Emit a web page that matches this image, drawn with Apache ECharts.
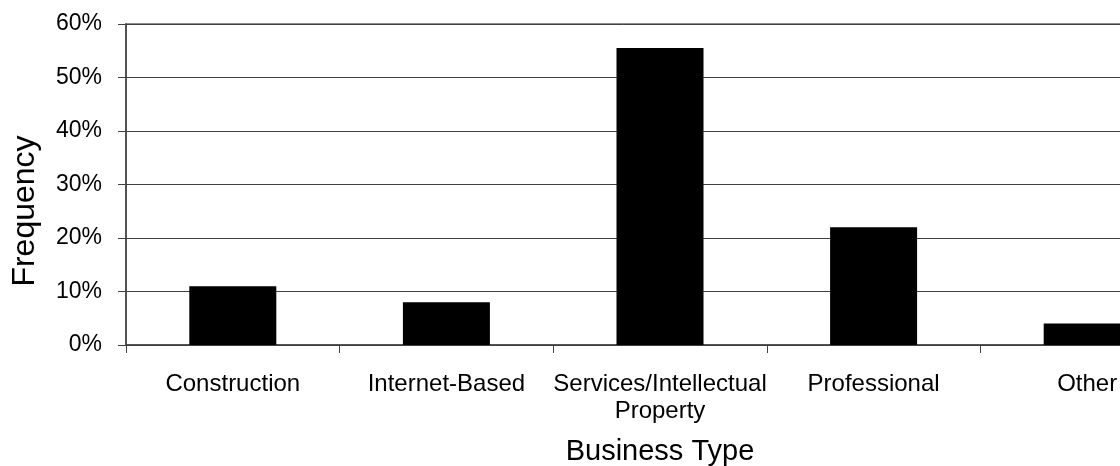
<!DOCTYPE html>
<html>
<head>
<meta charset="utf-8">
<script src="https://cdn.jsdelivr.net/npm/echarts@6/dist/echarts.min.js"></script>
<style>
  html, body { margin: 0; padding: 0; background: #fff; }
  #chart { width: 1120px; height: 466px; }
</style>
</head>
<body>
<div id="chart"></div>
<script>
  // data
  const categories = ['Construction', 'Internet-Based', 'Services/Intellectual\nProperty', 'Professional', 'Other']
  const frequency = [0.11, 0.08, 0.555, 0.22, 0.04]
  const yTicks = [0, 0.1, 0.2, 0.3, 0.4, 0.5, 0.6]

  const font = 'Liberation Sans'
  const chart = echarts.init(document.getElementById('chart'))

  const option = {
    animation: false,
    grid: {
      left: 126,
      top: 24,
      height: 321,
      width: 1068, // plot runs past the right edge, as in the original
      outerBoundsMode: 'none',
      containLabel: false,
      show: true,
      borderColor: '#8c8c8c',
      borderWidth: 2,
    },
    graphic: [
      {
        type: 'text',
        x: 25,
        y: 211,
        rotation: Math.PI / 2,
        style: {
          text: 'Frequency',
          font: '32px "Liberation Sans"',
          fill: '#000',
          align: 'center',
          verticalAlign: 'middle',
        },
      },
    ],
    xAxis: {
      type: 'category',
      data: categories,
      name: 'Business Type',
      nameLocation: 'middle',
      nameGap: 92,
      nameTextStyle: { fontFamily: font, fontSize: 29, color: '#000' },
      axisLine: { lineStyle: { color: '#404040', width: 1.5 } },
      axisTick: { show: true, length: 8, alignWithLabel: false, lineStyle: { color: '#404040' } },
      axisLabel: {
        interval: 0,
        margin: 26,
        fontFamily: font,
        fontSize: 24,
        color: '#000',
        lineHeight: 27,
      },
      splitLine: { show: false },
    },
    yAxis: {
      type: 'value',
      min: yTicks[0],
      max: yTicks[yTicks.length - 1],
      interval: 0.1,
      axisLine: { show: true, lineStyle: { color: '#404040', width: 1.5 } },
      axisTick: { show: true, length: 8, lineStyle: { color: '#404040' } },
      axisLabel: {
        margin: 24,
        fontFamily: font,
        fontSize: 23,
        color: '#000',
        formatter: (v) => Math.round(v * 100) + '%',
      },
      splitLine: { show: true, lineStyle: { color: '#404040', width: 1 } },
    },
    series: [
      {
        type: 'bar',
        data: frequency,
        barWidth: 87,
        itemStyle: { color: '#000' },
      },
    ],
  }
  chart.setOption(option)
</script>
</body>
</html>
